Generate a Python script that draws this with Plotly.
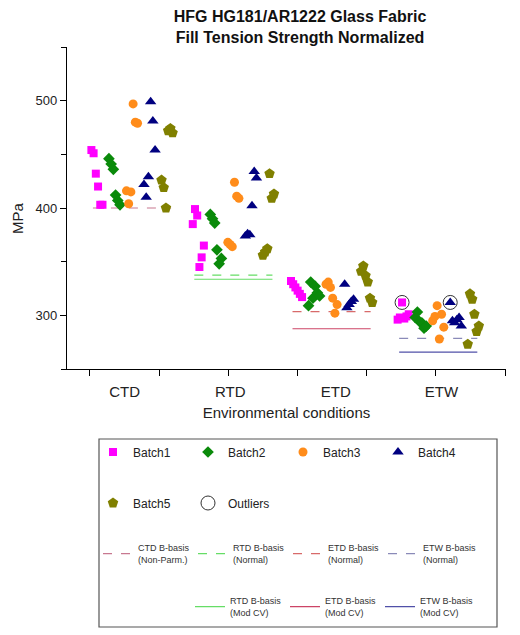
import plotly.graph_objects as go

# ---------------- data (MPa) ----------------
conditions = ["CTD", "RTD", "ETD", "ETW"]
batch_names = ["Batch1", "Batch2", "Batch3", "Batch4", "Batch5"]

batch1 = {"CTD": [454, 451, 432, 420, 403, 403],
          "RTD": [385, 399, 393, 345, 354, 365],
          "ETD": [332, 329, 326, 323, 320, 317],
          "ETW": [296, 298, 312, 297, 299, 301]}
batch2 = {"CTD": [446, 441, 436, 412, 407, 403],
          "RTD": [394, 390, 386, 361, 348, 353],
          "ETD": [309, 331, 316, 327, 321, 318],
          "ETW": [298, 303, 294, 293, 288, 290]}
batch3 = {"CTD": [416, 404, 415, 497, 480, 479],
          "RTD": [368, 366, 364, 424, 411, 409],
          "ETD": [329, 331, 326, 316, 302, 310],
          "ETW": [295, 299, 309, 278, 301, 289]}
batch4 = {"CTD": [422, 410, 429, 499, 481, 454],
          "RTD": [374, 376, 375, 402, 434, 428],
          "ETD": [329, 307, 310, 313, 315],
          "ETW": [312, 295, 293, 296, 298, 290]}
batch5 = {"CTD": [426, 419, 400, 472, 474, 470],
          "RTD": [356, 359, 362, 432, 409, 413],
          "ETD": [341, 346, 337, 331, 316, 312],
          "ETW": [273, 320, 315, 301, 285, 290]}
batches = [batch1, batch2, batch3, batch4, batch5]

outlier_condition = ["ETW", "ETW"]
outlier_batch = [1, 4]
outlier_value = [312, 312]

bbasis_normal = [400, 337.4, 303.4, 278.5]
bbasis_normal_names = ["CTD B-basis<br>(Non-Parm.)", "RTD B-basis<br>(Normal)",
                       "ETD B-basis<br>(Normal)", "ETW B-basis<br>(Normal)"]
bbasis_modcv = [None, 333.6, 287.5, 265.7]
bbasis_modcv_names = [None, "RTD B-basis<br>(Mod CV)", "ETD B-basis<br>(Mod CV)",
                      "ETW B-basis<br>(Mod CV)"]

# ---------------- styles / positions ----------------
FONT = "Liberation Sans, Arial, sans-serif"
batch_colors = ["#ff00ff", "#0a8a0a", "#ff8c1a", "#000080", "#808000"]
batch_symbols = ["square", "diamond", "circle", "triangle-up", "pentagon"]
batch_sizes = [8, 9, 9, 10, 11]
normal_colors = ["#c87890", "#66dd66", "#d86a6a", "#8a8ab8"]
modcv_colors = [None, "#66dd66", "#cc4466", "#5050a8"]

GROUP_POS = [1.07, 2.03, 2.96, 3.97]
BATCH_STEP = 0.166
JITTER = 0.021
HALF_SPAN = 0.37


def xpos(ci, bi, k, n):
    return GROUP_POS[ci] + (bi - 2) * BATCH_STEP + (k - (n - 1) / 2) * JITTER


fig = go.Figure()

# B-basis lines
for ci, cond in enumerate(conditions):
    gp = GROUP_POS[ci]
    fig.add_trace(go.Scatter(
        x=[gp - HALF_SPAN, gp + HALF_SPAN], y=[bbasis_normal[ci]] * 2,
        mode="lines", name=bbasis_normal_names[ci], legend="legend3",
        line=dict(color=normal_colors[ci], width=1.2, dash="dash"),
        hoverinfo="skip"))
for ci, cond in enumerate(conditions):
    if bbasis_modcv[ci] is None:
        continue
    gp = GROUP_POS[ci]
    fig.add_trace(go.Scatter(
        x=[gp - HALF_SPAN, gp + HALF_SPAN], y=[bbasis_modcv[ci]] * 2,
        mode="lines", name=bbasis_modcv_names[ci], legend="legend4",
        line=dict(color=modcv_colors[ci], width=1.2),
        hoverinfo="skip"))

# batch markers
for bi, b in enumerate(batches):
    xs, ys = [], []
    for ci, cond in enumerate(conditions):
        vals = b[cond]
        for k, v in enumerate(vals):
            xs.append(xpos(ci, bi, k, len(vals)))
            ys.append(v)
    fig.add_trace(go.Scatter(
        x=xs, y=ys, mode="markers", name=batch_names[bi],
        legend="legend" if bi < 4 else "legend2",
        marker=dict(symbol=batch_symbols[bi], size=batch_sizes[bi],
                    color=batch_colors[bi], line=dict(width=0))))

# outliers
ox, oy = [], []
for cond, bnum, v in zip(outlier_condition, outlier_batch, outlier_value):
    ci = conditions.index(cond)
    vals = batches[bnum - 1][cond]
    k = vals.index(v)
    ox.append(xpos(ci, bnum - 1, k, len(vals)))
    oy.append(v)
fig.add_trace(go.Scatter(
    x=ox, y=oy, mode="markers", name="Outliers", legend="legend2",
    marker=dict(symbol="circle-open", size=14, color="#333333",
                line=dict(width=1))))

# ---------------- layout ----------------
# the page body adds an 8 px margin, so the figure is laid out in
# page pixels minus 8
OFF = 8
W, H = 520 - OFF, 635 - OFF
ML, MT = 67 - OFF, 47 - OFF
MR, MB = 520 - 506, 635 - 369
PW, PH = W - ML - MR, H - MT - MB
XR = [0.4545, 4.6117]
tick_positions = [0.672 + i * 0.6553 for i in range(7)]


def cy(px):
    return 1 - px / H


def cx(px):
    return px / W


def paper_x(page_px):
    return (page_px - OFF - ML) / PW


def paper_y(page_px):
    return (H - MB - (page_px - OFF)) / PH


legend_common = dict(orientation="h", xref="container", yref="container",
                     xanchor="left", yanchor="middle", bgcolor="rgba(0,0,0,0)",
                     borderwidth=0, entrywidthmode="pixels", itemsizing="trace",
                     tracegroupgap=0, entrywidth=50)

fig.update_layout(
    width=W, height=H,
    margin=dict(l=ML, r=MR, t=MT, b=MB, autoexpand=False),
    paper_bgcolor="white", plot_bgcolor="white",
    font=dict(family=FONT, color="#222222"),
    title=dict(text="<b>HFG HG181/AR1222 Glass Fabric<br>Fill Tension Strength Normalized</b>",
               x=cx(292), xref="container", xanchor="center",
               y=cy(14), yref="container", yanchor="middle",
               font=dict(family=FONT, size=16, color="#111111")),
    xaxis=dict(range=XR, showgrid=False, zeroline=False,
               showline=True, linecolor="black", linewidth=1.3,
               tickvals=[1, 2, 3, 4], ticktext=conditions, ticks="",
               ticklabelstandoff=9,
               tickfont=dict(family=FONT, size=15, color="#222222"),
               minor=dict(tickvals=tick_positions, ticks="outside", ticklen=6,
                          tickcolor="black", tickwidth=1.3),
               title=dict(text="Environmental conditions", standoff=8,
                          font=dict(family=FONT, size=15, color="#222222"))),
    yaxis=dict(range=[250, 550], showgrid=False, zeroline=False,
               showline=True, linecolor="black", linewidth=1.3,
               tickvals=[300, 400, 500], ticks="outside", ticklen=6,
               tickcolor="black", tickwidth=1.3,
               tickfont=dict(family=FONT, size=13, color="#222222"),
               minor=dict(dtick=50, tick0=250, ticks="outside", ticklen=5,
                          tickcolor="black", tickwidth=1.3)),
    legend=dict(**legend_common, x=cx(85), y=cy(444),
                font=dict(family=FONT, size=12, color="#222222")),
    legend2=dict(**legend_common, x=cx(85), y=cy(495),
                 font=dict(family=FONT, size=12, color="#222222")),
    legend3=dict(**legend_common, x=cx(90), y=cy(546),
                 font=dict(family=FONT, size=9, color="#333333")),
    legend4=dict(**legend_common, x=cx(182), y=cy(599),
                 font=dict(family=FONT, size=9, color="#333333")),
    showlegend=True,
    annotations=[dict(text="MPa", textangle=-90, xref="paper", yref="paper",
                      x=paper_x(18), y=paper_y(218),
                      xanchor="center", yanchor="middle", showarrow=False,
                      font=dict(family=FONT, size=15, color="#222222"))],
    shapes=[dict(type="rect", xref="paper", yref="paper",
                 x0=paper_x(99), x1=paper_x(497),
                 y0=paper_y(627), y1=paper_y(439),
                 line=dict(color="#555555", width=1.2), fillcolor="rgba(0,0,0,0)")],
)

fig.write_html("out.html")
